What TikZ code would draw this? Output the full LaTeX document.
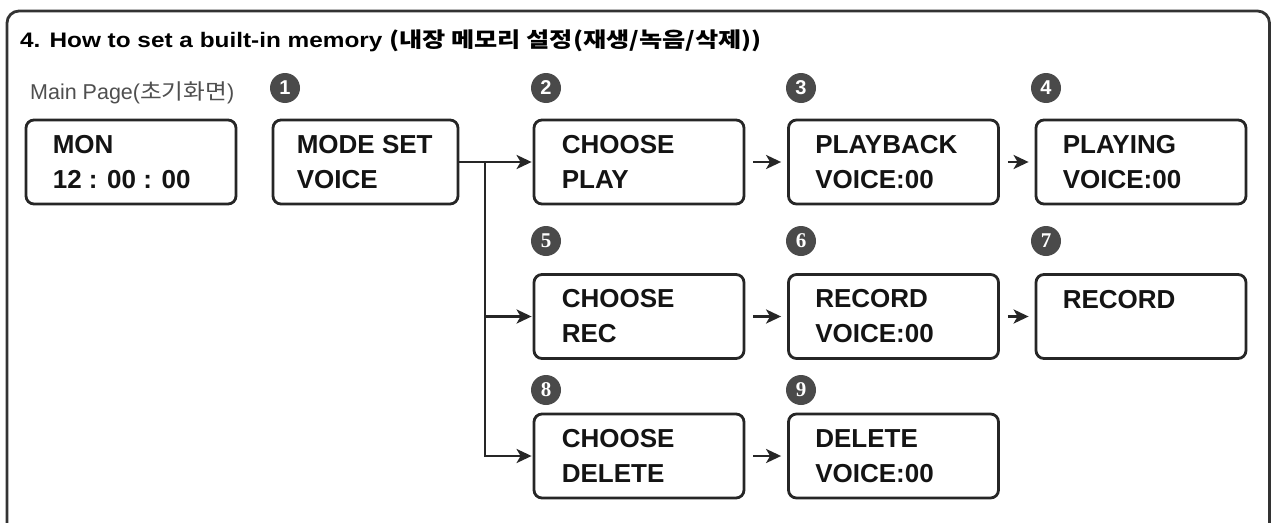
\documentclass[tikz,border=0pt]{standalone}
\usepackage{fontspec}
\setmainfont{Liberation Sans}
\newfontfamily\krfont[FakeStretch=1.1]{Noto Sans CJK KR}
\newfontfamily\krtitle[FakeStretch=1.2]{Noto Sans CJK KR}
\newfontfamily\titlefont[FakeStretch=1.16]{Liberation Sans}
\newfontfamily\numserif{Liberation Serif}
\usetikzlibrary{arrows.meta}
\definecolor{linec}{HTML}{262626}
\definecolor{numgray}{HTML}{4A4A4A}
\definecolor{subgray}{HTML}{4F4F4F}
\tikzset{
  box/.style={draw=linec, line width=2.8pt, rounded corners=8pt, minimum width=210pt, minimum height=84pt, inner sep=0pt},
  btext/.style={font=\fontsize{26}{35}\selectfont\bfseries, align=left, anchor=west, inner sep=0pt, text=black!92},
  num/.style={circle, fill=numgray, text=white, minimum size=30pt, inner sep=0pt},
  numsans/.style={num, font=\fontsize{20}{20}\selectfont\bfseries},
  numser/.style={num, font=\fontsize{21}{21}\selectfont\numserif\bfseries},
  arr/.style={-{Stealth[length=15pt,width=14pt,inset=4pt]}, line width=2.8pt, draw=linec},
  frame/.style={draw=black!80, line width=2.8pt, rounded corners=12pt}
}
\begin{document}
\begin{tikzpicture}[x=1pt,y=-1pt]
\useasboundingbox (0,0) rectangle (1271,522);
\fill[white] (0,0) rectangle (1271,522);
\draw[frame] (7,545) -- (7,11) -- (1269.5,11) -- (1269.5,545);

% title
\node[anchor=base west, inner sep=0pt, font=\fontsize{21}{21}\selectfont] (title) at (20,47)
  {{\titlefont\bfseries 4. How to set a built-in memory }{\krtitle\bfseries (내장 메모리 설정(재생/녹음/삭제))}};
\node[anchor=base west, inner sep=0pt, text=subgray, font=\fontsize{21.5}{21.5}\selectfont] (mainpage) at (30,99)
  {Main Page({\krfont 초기화면})};

% boxes
\node[box] (b0) at (131,162) {};
\node[box, minimum width=185pt] (b1) at (365.5,162) {};
\node[box] (b2) at (639,162) {};
\node[box] (b3) at (893.5,162) {};
\node[box] (b4) at (1141,162) {};
\node[box] (b5) at (639,316.5) {};
\node[box] (b6) at (893.5,316.5) {};
\node[box] (b7) at (1141,316.5) {};
\node[box] (b8) at (639,456) {};
\node[box] (b9) at (893.5,456) {};

% box texts
\node[btext] (t0) at ([xshift=28pt]b0.west) {MON\\12 : 00 : 00};
\node[btext] (t1) at ([xshift=25pt]b1.west) {MODE SET\\VOICE};
\node[btext] (t2) at ([xshift=29pt]b2.west) {CHOOSE\\PLAY};
\node[btext] (t3) at ([xshift=28pt]b3.west) {PLAYBACK\\VOICE:00};
\node[btext] (t4) at ([xshift=28pt]b4.west) {PLAYING\\VOICE:00};
\node[btext] (t5) at ([xshift=29pt]b5.west) {CHOOSE\\REC};
\node[btext] (t6) at ([xshift=28pt]b6.west) {RECORD\\VOICE:00};
\node[btext] (t7) at ([xshift=28pt]b7.west) {RECORD\\\phantom{V}};
\node[btext] (t8) at ([xshift=29pt]b8.west) {CHOOSE\\DELETE};
\node[btext] (t9) at ([xshift=28pt]b9.west) {DELETE\\VOICE:00};

% step numbers
\node[numsans] (n1) at (285,88) {1};
\node[numsans] (n2) at (546,88) {2};
\node[numsans] (n3) at (801,88) {3};
\node[numsans] (n4) at (1046,88) {4};
\node[numser] (n5) at (546,241) {5};
\node[numser] (n6) at (801,241) {6};
\node[numser] (n7) at (1046,241) {7};
\node[numser] (n8) at (546,390) {8};
\node[numser] (n9) at (801,390) {9};

% connectors
\coordinate (j) at (485,162);
\draw[arr, shorten >=1pt] (b1.east) -- (b2.west);
\draw[arr, shorten >=1pt] (j) |- (b5.west);
\draw[arr, shorten >=1pt] (j) |- (b8.west);
\draw[arr, shorten <=8pt, shorten >=6pt] (b2) -- (b3);
\draw[arr, shorten <=8pt, shorten >=6pt] (b3) -- (b4);
\draw[arr, shorten <=8pt, shorten >=6pt] (b5) -- (b6);
\draw[arr, shorten <=8pt, shorten >=6pt] (b6) -- (b7);
\draw[arr, shorten <=8pt, shorten >=6pt] (b8) -- (b9);
\end{tikzpicture}
\end{document}
